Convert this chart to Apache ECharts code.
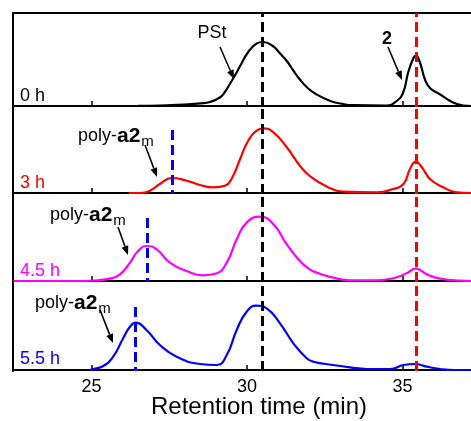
<!DOCTYPE html>
<html>
<head>
<meta charset="utf-8">
<script src="https://cdn.jsdelivr.net/npm/echarts@6/dist/echarts.min.js"></script>
<style>
  html, body { margin: 0; padding: 0; background: #fff; }
  #chart { width: 471px; height: 421px; }
</style>
</head>
<body>
<div id="chart"></div>
<script>
// retention time (min) and detector signal for each sample
var time0h = [26.5, 27.2, 28.0, 28.5, 28.81, 29.13, 29.29, 29.45, 29.62, 29.78, 30.03, 30.31, 30.51, 30.83, 31.05, 31.28, 31.5, 31.70, 31.95, 32.24, 32.68, 33.0, 33.41, 34.49, 34.81, 35.02, 35.18, 35.33, 35.43, 35.56, 35.72, 35.88, 36.21, 36.62, 36.95, 37.2];
var sig0h  = [0.2, 0.5, 1.5, 2.6, 4, 8.5, 14, 22, 31, 40, 53.5, 62.5, 64, 60, 53, 45, 35, 26.5, 18, 11.5, 5, 2.5, 0.8, 0.5, 5, 13.5, 33.5, 46.5, 50.5, 43.5, 26.5, 18, 11.5, 3.5, 0.5, 0];

var time3h = [26.2, 26.56, 26.88, 27.2, 27.58, 28.06, 28.49, 28.92, 29.29, 29.51, 29.78, 30.04, 30.31, 30.52, 30.85, 31.28, 31.70, 32.02, 32.56, 33.10, 34.17, 34.70, 35.03, 35.24, 35.43, 35.62, 35.88, 36.31, 36.74, 37.2];
var sig3h  = [0, 0, 2.3, 9, 15, 12.3, 8, 5.7, 7.2, 14.5, 34, 52.3, 62.3, 64.7, 60.7, 45.7, 27.3, 17, 6.5, 1.3, 0.7, 4, 9, 24, 31.3, 25.7, 14, 5.7, 0.7, 0];

var time45h = [22.5, 24.5, 25.06, 25.59, 25.92, 26.24, 26.50, 26.79, 27.10, 27.52, 28.06, 28.59, 29.03, 29.35, 29.67, 29.99, 30.42, 30.85, 31.28, 31.70, 32.02, 32.24, 32.77, 33.31, 34.17, 34.70, 35.13, 35.43, 35.78, 36.21, 36.85, 37.2];
var sig45h  = [0, 0, 0.5, 2.4, 6.7, 18.4, 30, 35, 31.7, 18.4, 10, 5.7, 7.7, 18.4, 41.7, 58.4, 64.4, 56.7, 36.7, 20, 11.7, 8.4, 3.4, 0.7, 0.7, 2.7, 7.7, 12.4, 6.7, 2.4, 0.3, 0];

var time55h = [24.95, 25.06, 25.38, 25.70, 26.02, 26.24, 26.43, 26.77, 27.20, 27.74, 28.49, 29.03, 29.35, 29.67, 29.99, 30.31, 30.63, 31.06, 31.49, 31.92, 32.13, 32.77, 33.31, 33.85, 34.60, 35.03, 35.40, 35.78, 36.21, 36.69, 37.2];
var sig55h  = [0, 1, 4, 13.3, 31.7, 43.3, 47.3, 40, 25, 13.3, 6, 5, 15, 40, 58.3, 64.3, 61.7, 46.7, 26.7, 11.7, 8.3, 5, 2.7, 1, 1, 5, 6, 3.3, 1, 0, 0];

var sampleLabels = ['0 h', '3 h', '4.5 h', '5.5 h'];
var sampleColors = ['#000000', '#ff0000', '#ff00ff', '#0000ff'];
var pstPeak = 30.48;          // black dashed line
var monomerPeak = 35.44;      // red dashed line
var polyPeaks = [null, 27.59, 26.8, 26.42];  // blue dashed lines
var polyMarkTop = 63;
var tickValues = [25, 30, 35];

var times = [time0h, time3h, time45h, time55h];
var signals = [sig0h, sig3h, sig45h, sig55h];

// panel boxes (px)
var panelTop = [13, 107, 194, 282];
var panelH = [94, 87, 88, 89];

var font = '"Liberation Sans", Arial, sans-serif';
var blackLine = { show: true, lineStyle: { color: '#000', width: 2 } };

function arrow(x1, y1, x2, y2) {
    var a = Math.atan2(y2 - y1, x2 - x1), L = 9, W = 3.5;
    var bx = x2 - L * Math.cos(a), by = y2 - L * Math.sin(a);
    return [
        { type: 'line', shape: { x1: x1, y1: y1, x2: bx, y2: by }, style: { stroke: '#000', lineWidth: 1.6 } },
        { type: 'polygon', shape: { points: [[x2, y2], [bx - W * Math.sin(a), by + W * Math.cos(a)], [bx + W * Math.sin(a), by - W * Math.cos(a)]] }, style: { fill: '#000' } }
    ];
}

var grids = [], xAxes = [], yAxes = [], series = [];
for (var i = 0; i < 4; i++) {
    grids.push({ left: 13, right: 0, top: panelTop[i], height: panelH[i] });
    xAxes.push({
        gridIndex: i, type: 'value', min: 22.48, max: 37.2,
        axisLine: blackLine,
        axisTick: { show: true, inside: true, length: 5, customValues: tickValues, lineStyle: { color: '#000', width: 1.5 } },
        axisLabel: { show: i === 3, customValues: tickValues, color: '#000', fontSize: 18, fontFamily: font, margin: 7 },
        splitLine: { show: false }
    });
    yAxes.push({
        gridIndex: i, type: 'value', min: -1, max: panelH[i] - 1,
        axisLine: blackLine, axisTick: { show: false }, axisLabel: { show: false }, splitLine: { show: false }
    });

    var pts = [];
    for (var k = 0; k < times[i].length; k++) pts.push([times[i][k], signals[i][k]]);

    var marks = [
        { xAxis: pstPeak, lineStyle: { color: '#000' } },
        { xAxis: monomerPeak, lineStyle: { color: '#ff0000' } }
    ];
    if (polyPeaks[i] !== null) {
        marks.push([{ coord: [polyPeaks[i], polyMarkTop], lineStyle: { color: '#0000ff' } }, { coord: [polyPeaks[i], -1] }]);
    }
    series.push({
        type: 'line', xAxisIndex: i, yAxisIndex: i, data: pts,
        smooth: 0.5, showSymbol: false, silent: true,
        lineStyle: { color: sampleColors[i], width: 2.2 },
        markLine: {
            symbol: 'none', silent: true, animation: false,
            label: { show: false },
            lineStyle: { type: [10, 5], width: 3 },
            data: marks
        }
    });
}
// top frame line of the first panel
xAxes.push({
    gridIndex: 0, type: 'value', position: 'top', min: 22.48, max: 37.2,
    axisLine: blackLine, axisTick: { show: false }, axisLabel: { show: false }, splitLine: { show: false }
});

var graphics = [
    { type: 'text', x: 212, y: 33, style: { text: 'PSt', font: '18px ' + font, fill: '#000', align: 'center', verticalAlign: 'middle' } },
    { type: 'text', x: 387, y: 39, style: { text: '2', font: 'bold 18px ' + font, fill: '#000', align: 'center', verticalAlign: 'middle' } }
];
var labelY = [96, 183, 271, 359];
for (var j = 0; j < 4; j++) {
    graphics.push({ type: 'text', x: 20, y: labelY[j], style: { text: sampleLabels[j], font: '18px ' + font, fill: sampleColors[j], align: 'left', verticalAlign: 'middle' } });
}
var polyPos = [[78, 136], [50, 215], [35, 303]];
polyPos.forEach(function (p) {
    graphics.push({
        type: 'text', x: p[0], y: p[1],
        style: {
            text: '{n|poly-}{b|a2}{s|m}', align: 'left', verticalAlign: 'middle',
            rich: {
                n: { fontSize: 18, fontFamily: font, fill: '#000' },
                b: { fontSize: 21, fontFamily: font, fontWeight: 'bold', fill: '#000' },
                s: { fontSize: 15, fontFamily: font, fill: '#000', padding: [12, 0, 0, 1] }
            }
        }
    });
});
graphics = graphics
    .concat(arrow(220, 47, 234, 79))
    .concat(arrow(388, 47, 402, 80))
    .concat(arrow(145, 145, 157, 177))
    .concat(arrow(118, 227, 128, 255))
    .concat(arrow(100, 310, 113, 343));
graphics.push({ type: 'text', x: 259, y: 407, style: { text: 'Retention time (min)', font: '24px ' + font, fill: '#000', align: 'center', verticalAlign: 'middle' } });

var myChart = echarts.init(document.getElementById('chart'));
myChart.setOption({
    animation: false,
    backgroundColor: '#fff',
    grid: grids,
    xAxis: xAxes,
    yAxis: yAxes,
    series: series,
    graphic: graphics
});
</script>
</body>
</html>
